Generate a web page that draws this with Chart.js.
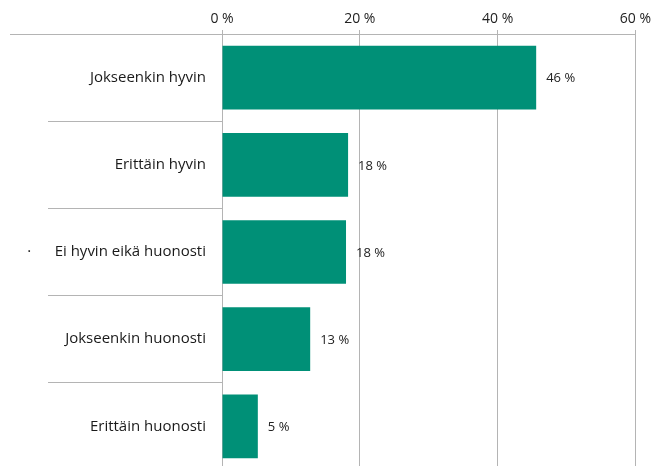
<!DOCTYPE html>
<html>
<head>
<meta charset="utf-8">
<script src="https://cdn.jsdelivr.net/npm/chart.js@4/dist/chart.umd.min.js"></script>
<style>
  html, body { margin: 0; padding: 0; background: #fff; overflow: hidden; }
  #wrap { width: 654px; height: 466px; overflow: hidden; }
</style>
</head>
<body>
<div id="wrap"><canvas id="chart" width="654" height="472"></canvas></div>
<script>
'use strict';

const categories = [
    'Jokseenkin hyvin',
    'Erittäin hyvin',
    '·      Ei hyvin eikä huonosti',
    'Jokseenkin huonosti',
    'Erittäin huonosti'
];
const shares = [ 45.6, 18.3, 18, 12.8, 5.2 ];
const shareLabels = [ '46 %', '18 %', '18 %', '13 %', '5 %' ];

const lineColor = '#b4b4b4';
const font = '"Open Sans", "Liberation Sans", sans-serif';

// value labels to the right of each bar
const valueLabels = {
    id: 'valueLabels',
    afterDatasetsDraw(chart) {
        const ctx = chart.ctx;
        const meta = chart.getDatasetMeta(0);
        ctx.save();
        ctx.font = '13px ' + font;
        ctx.fillStyle = '#222';
        ctx.textBaseline = 'middle';
        meta.data.forEach(function(bar, i) {
            ctx.fillText(shareLabels[i], bar.x + 10, bar.y + 1);
        });
        ctx.restore();
    }
};

// top axis line continues left over the label area
const axisExtension = {
    id: 'axisExtension',
    afterDraw(chart) {
        const ctx = chart.ctx;
        const top = chart.chartArea.top;
        ctx.save();
        ctx.strokeStyle = lineColor;
        ctx.lineWidth = 1;
        ctx.beginPath();
        ctx.moveTo(10, top + 0.5);
        ctx.lineTo(chart.chartArea.left, top + 0.5);
        ctx.stroke();
        ctx.restore();
    }
};

new Chart(document.getElementById('chart'), {
    type: 'bar',
    data: {
        labels: categories,
        datasets: [
            {
                data: shares,
                backgroundColor: '#009077',
                borderWidth: 0,
                categoryPercentage: 1,
                barPercentage: 0.73
            }
        ]
    },
    options: {
        indexAxis: 'y',
        responsive: false,
        animation: false,
        devicePixelRatio: 1,
        layout: { padding: { top: 0, right: 18, bottom: 2, left: 0 } },
        plugins: {
            legend: { display: false },
            tooltip: { enabled: false }
        },
        scales: {
            x: {
                position: 'top',
                min: 0,
                max: 60,
                afterFit(scale) { scale.height = 34; },
                ticks: {
                    stepSize: 20,
                    padding: 3,
                    color: '#222',
                    font: { family: font, size: 14 },
                    callback: function(v) { return v + ' %'; }
                },
                grid: {
                    color: lineColor,
                    lineWidth: 1,
                    tickLength: 4
                },
                border: { display: true, color: lineColor, width: 1 }
            },
            y: {
                afterFit(scale) { scale.width = 222; },
                ticks: {
                    padding: -158,
                    color: '#1a1a1a',
                    font: { family: font, size: 15 }
                },
                grid: {
                    offset: true,
                    drawOnChartArea: false,
                    color: lineColor,
                    lineWidth: 1,
                    tickLength: 174
                },
                border: { display: true, color: lineColor, width: 1 }
            }
        }
    },
    plugins: [ valueLabels, axisExtension ]
});
</script>
</body>
</html>
